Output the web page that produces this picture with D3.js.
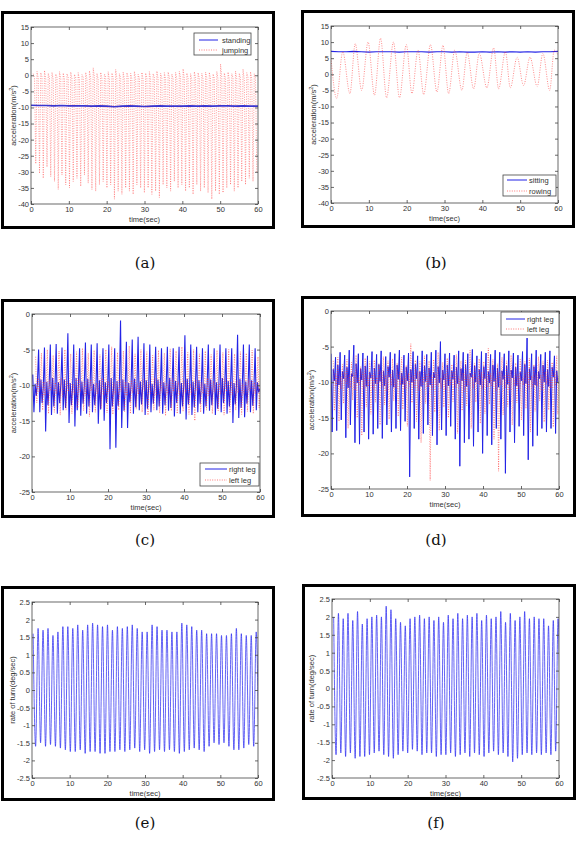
<!DOCTYPE html>
<html><head><meta charset="utf-8">
<script src="https://cdn.jsdelivr.net/npm/d3@7"></script>
<style>body{margin:0;background:#fff}svg{display:block}</style>
</head><body>
<svg id="fig" width="580" height="851"></svg>
<script>
// ---------------- DATA ----------------
const timeTicks = [0, 10, 20, 30, 40, 50, 60];
const accelTicksAB = [15, 10, 5, 0, -5, -10, -15, -20, -25, -30, -35, -40];
const accelTicksCD = [0, -5, -10, -15, -20, -25];
const turnTicks = [2.5, 2, 1.5, 1, 0.5, 0, -0.5, -1, -1.5, -2, -2.5];

// (a) standing: sampled every 2 s
const standing = [-9.3,-9.4,-9.4,-9.5,-9.4,-9.5,-9.5,-9.5,-9.6,-9.5,
  -9.6,-9.8,-9.6,-9.5,-9.6,-9.7,-9.6,-9.5,-9.6,-9.6,
  -9.6,-9.5,-9.6,-9.5,-9.6,-9.5,-9.5,-9.6,-9.5,-9.6,-9.6];
// (a) jumping: samples every 0.33 s from 0.6 s (airborne, airborne, landing)
const jumping = [
  0.5,-0.8,-27.5, 1.2,-1.0,-30.5, 0.8,-0.5,-32.0, 1.5,-1.2,-28.5, 0.6,-0.9,-31.5,
  0.9,-1.4,-33.0, 0.4,-0.6,-35.5, 1.1,-1.0,-31.0, 0.7,-1.3,-34.0, 0.5,-0.7,-35.0,
  1.0,-1.1,-33.0, 0.3,-0.8,-32.0, 0.8,-1.5,-34.5, 0.2,-0.6,-31.0, 0.9,-1.2,-33.5,
  1.4,-0.9,-35.5, 2.3,-0.7,-36.0, 0.6,-1.3,-34.0, 0.9,-1.0,-33.0, 0.4,-0.5,-35.0,
  1.1,-1.4,-34.0, 0.7,-0.8,-38.5, 1.8,-1.1,-36.0, 0.5,-0.9,-37.0, 1.0,-1.3,-35.0,
  0.8,-0.6,-36.0, 0.6,-1.2,-37.0, 1.2,-0.9,-34.0, 0.3,-1.0,-35.0, 0.9,-1.4,-36.5,
  0.7,-0.8,-35.0, 1.1,-1.2,-37.0, 0.5,-0.7,-36.0, 1.3,-1.1,-38.0, 0.6,-0.9,-34.0,
  0.8,-1.3,-35.0, 1.0,-0.6,-36.0, 0.4,-1.0,-33.0, 0.9,-1.2,-35.0, 1.2,-0.8,-34.0,
  2.0,-1.1,-36.0, 0.7,-0.9,-35.0, 0.5,-1.4,-37.0, 1.1,-0.7,-34.0, 0.8,-1.0,-36.0,
  0.6,-1.2,-35.0, 1.0,-0.8,-36.5, 0.9,-1.1,-38.5, 0.4,-0.9,-36.0, 1.2,-1.3,-37.0,
  3.5,-0.6,-36.5, 0.7,-1.0,-35.0, 1.0,-1.2,-34.0, 0.5,-0.8,-36.0, 1.3,-1.1,-35.0,
  0.6,-0.9,-33.0, 1.9,-1.3,-34.0, 0.8,-0.7,-32.0, 1.1,-1.0,-33.0, 0.5,-0.9,-30.0];

// (b) sitting: every 2 s
const sitting = [7.1,7.0,7.0,7.1,7.0,6.9,7.0,7.0,7.0,6.9,
  7.0,7.0,7.0,6.9,7.0,7.0,6.9,7.0,6.9,6.9,
  7.0,6.9,7.0,6.9,7.0,6.9,7.0,6.9,7.0,7.0,7.1];
// (b) rowing: turning points
const rowingTime = [0,1.5,3.1,5.0,6.4,8.1,9.8,11.5,13.1,14.7,16.5,18.1,19.9,21.4,23.0,24.5,26.3,28.0,
  29.6,31.1,32.7,34.6,36.0,37.7,39.2,41.2,43.0,44.3,46.1,47.4,49.2,50.9,52.6,54.5,56.0,57.8,59.0,60];
const rowingValue = [5.0,-7.5,7.0,-6.0,9.5,-5.0,10.0,-6.5,11.2,-7.3,10.0,-7.3,9.2,-6.0,7.5,-6.3,9.2,-5.5,
  9.0,-6.0,7.5,-5.0,6.8,-4.5,6.5,-4.2,8.2,-4.5,7.0,-4.2,5.3,-3.5,5.3,-3.8,6.5,-5.0,7.5,6.0];

// (c) walking, right leg: every 0.308 s from 0.2 s (peak, drop, mid, dip, mid per step)
const walkRight = [
  -8.5,-13.8,-9.8,-11.5,-9.6,  -5.0,-13.8,-9.2,-12.5,-10.2, -4.7,-16.5,-9.5,-12.8,-10.0,
  -4.3,-14.2,-9.0,-13.0,-10.3, -4.2,-14.0,-9.6,-12.5,-9.8,  -4.7,-13.5,-9.2,-13.2,-10.1,
  -2.7,-15.3,-9.7,-12.8,-10.4, -4.3,-15.8,-9.0,-13.5,-9.9,  -4.8,-14.3,-9.5,-12.6,-10.2,
  -4.0,-14.0,-9.1,-13.0,-10.0, -4.3,-13.8,-9.8,-12.8,-10.3, -4.1,-15.4,-9.3,-13.4,-9.8,
  -4.8,-15.0,-9.6,-12.5,-10.1, -4.3,-19.0,-9.0,-13.0,-10.4, -4.8,-18.8,-9.4,-12.9,-10.0,
  -0.9,-16.0,-9.2,-13.6,-10.3, -3.9,-16.0,-9.7,-12.4,-9.9,  -3.6,-14.0,-9.1,-13.1,-10.2,
  -3.2,-13.5,-9.5,-12.7,-10.0, -4.1,-14.2,-9.3,-13.3,-10.4, -4.3,-13.8,-9.8,-12.6,-9.9,
  -4.6,-13.5,-9.2,-13.0,-10.2, -4.8,-14.0,-9.6,-12.8,-10.0, -4.6,-13.6,-9.0,-13.2,-10.3,
  -4.8,-14.4,-9.4,-12.5,-9.8,  -4.6,-14.0,-9.7,-13.0,-10.1, -3.0,-14.8,-9.1,-12.7,-10.4,
  -4.3,-14.2,-9.5,-13.1,-10.0, -4.6,-13.8,-9.3,-12.6,-10.2, -4.8,-14.0,-9.8,-13.0,-9.9,
  -4.3,-13.6,-9.2,-12.8,-10.3, -4.8,-14.2,-9.6,-13.3,-10.0, -4.3,-13.8,-9.0,-12.5,-10.2,
  -4.8,-14.0,-9.4,-13.0,-9.8,  -4.8,-15.3,-9.7,-12.7,-10.1, -2.9,-14.6,-9.1,-13.2,-10.4,
  -4.3,-14.5,-9.5,-12.6,-10.0, -4.3,-13.8,-9.3,-12.9,-10.2, -4.8,-13.5,-9.6,-11.0,-10.5];
// (c) walking, left leg: every 0.308 s from 0.95 s
const walkLeft = [
  -6.0,-12.5,-9.0,-11.0,-10.0, -5.5,-13.5,-9.5,-11.5,-10.2, -5.0,-14.0,-9.2,-10.8,-9.8,
  -5.8,-13.8,-9.6,-11.2,-10.1, -5.2,-14.2,-9.0,-11.6,-10.3, -5.0,-13.5,-9.4,-10.9,-9.9,
  -5.6,-14.0,-9.8,-11.3,-10.2, -5.3,-13.2,-9.1,-11.0,-10.0, -4.8,-13.6,-9.5,-11.5,-10.4,
  -5.5,-14.4,-9.2,-10.8,-9.8,  -5.1,-13.8,-9.7,-11.2,-10.1, -5.7,-13.3,-9.0,-11.4,-10.3,
  -5.0,-13.9,-9.4,-11.0,-9.9,  -4.6,-14.1,-9.6,-11.3,-10.2, -5.4,-13.5,-9.1,-10.9,-10.0,
  -5.2,-13.7,-9.5,-11.5,-10.4, -4.5,-14.0,-9.3,-11.1,-9.8,  -5.6,-13.4,-9.8,-11.3,-10.1,
  -5.0,-13.8,-9.2,-10.8,-10.3, -5.3,-14.2,-9.6,-11.2,-9.9,  -5.8,-13.5,-9.0,-11.5,-10.2,
  -5.1,-13.9,-9.4,-11.0,-10.0, -5.5,-14.3,-9.7,-11.3,-10.4, -4.9,-13.6,-9.1,-10.9,-9.8,
  -5.2,-14.0,-9.5,-11.4,-10.1, -4.6,-13.7,-9.3,-11.1,-10.3, -5.4,-14.1,-9.8,-11.3,-9.9,
  -5.0,-15.0,-9.2,-10.8,-10.2, -5.6,-13.8,-9.6,-11.2,-10.0, -5.2,-13.5,-9.0,-11.5,-10.4,
  -5.7,-14.0,-9.4,-11.0,-9.8,  -5.1,-13.6,-9.7,-11.3,-10.1, -5.4,-14.2,-9.1,-10.9,-10.3,
  -5.0,-13.9,-9.5,-11.4,-9.9,  -5.6,-13.5,-9.3,-11.1,-10.2, -5.3,-14.1,-9.8,-11.3,-10.0,
  -5.5,-13.7,-9.2,-10.8,-10.4, -5.1,-14.0,-9.6,-11.2,-9.8,  -6.0,-13.2,-9.4,-11.0,-10.2];

// (d) running, right leg: every 0.3 s from 0 s (peak, drop, mid, mid per step)
const runRight = [
  -6.0,-17.0,-8.2,-9.8,  -6.5,-16.8,-7.6,-10.4, -5.8,-15.3,-8.5,-9.5,  -6.2,-17.8,-7.9,-10.8,
  -5.5,-16.0,-8.8,-9.2,  -4.8,-18.5,-7.4,-10.1, -6.0,-18.7,-8.1,-9.7,  -5.9,-17.0,-7.7,-10.6,
  -6.3,-18.0,-8.6,-9.4,  -5.7,-17.3,-8.0,-10.2, -6.1,-16.5,-7.5,-9.9,  -5.6,-17.9,-8.4,-10.5,
  -6.4,-16.0,-7.8,-9.3,  -5.8,-17.0,-8.3,-10.7, -6.0,-16.5,-7.6,-9.6,  -5.5,-16.8,-8.7,-10.3,
  -6.2,-15.5,-7.9,-9.8,  -5.9,-23.3,-8.2,-10.0, -5.7,-16.5,-7.5,-9.5,  -6.3,-18.0,-8.5,-10.6,
  -5.6,-17.2,-7.7,-9.9,  -6.1,-16.0,-8.0,-10.4, -5.8,-17.5,-8.6,-9.4,  -5.5,-18.8,-7.8,-10.1,
  -4.3,-16.7,-8.3,-9.7,  -6.0,-17.5,-7.6,-10.5, -5.9,-16.2,-8.4,-9.6,  -6.2,-18.0,-7.9,-10.2,
  -5.6,-21.8,-8.1,-9.8,  -5.8,-18.5,-7.5,-10.6, -6.0,-18.0,-8.7,-9.3,  -5.4,-19.0,-7.7,-10.0,
  -6.3,-17.0,-8.2,-10.4, -5.7,-20.0,-7.8,-9.5,  -5.9,-17.5,-8.5,-10.1, -6.1,-18.8,-7.6,-9.9,
  -5.5,-16.5,-8.0,-10.7, -5.8,-18.0,-8.4,-9.6,  -6.0,-22.8,-7.7,-10.3, -5.6,-17.0,-8.3,-9.4,
  -5.9,-18.5,-7.9,-10.5, -6.2,-16.2,-8.6,-9.8,  -5.7,-17.5,-7.5,-10.2, -3.8,-20.9,-8.1,-9.7,
  -6.0,-19.0,-7.8,-10.4, -5.5,-17.5,-8.5,-9.5,  -6.1,-16.5,-7.6,-10.0, -5.8,-17.0,-8.2,-10.6,
  -5.6,-16.5,-7.9,-9.3,  -6.3,-17.2,-8.4,-10.1];
// (d) running, left leg: every 0.3 s from 0.6 s
const runLeft = [
  -7.0,-14.0,-8.8,-10.5, -6.5,-15.5,-9.2,-11.0, -7.5,-13.0,-8.5,-10.2, -6.8,-16.5,-9.0,-10.8,
  -7.2,-12.5,-8.7,-11.2, -6.2,-15.0,-9.4,-10.4, -7.8,-17.5,-8.6,-10.9, -6.6,-13.5,-9.1,-10.6,
  -7.1,-14.5,-8.9,-11.1, -6.9,-12.8,-9.3,-10.3, -7.4,-16.0,-8.4,-10.7, -6.4,-13.2,-9.0,-11.3,
  -7.0,-15.2,-8.8,-10.5, -6.7,-12.6,-9.5,-10.9, -7.3,-14.8,-8.6,-10.4, -6.5,-13.8,-9.2,-11.0,
  -7.6,-16.2,-8.7,-10.6, -4.6,-12.9,-9.1,-10.8, -6.9,-15.5,-8.5,-11.2, -7.1,-18.5,-9.3,-10.3,
  -6.3,-13.0,-8.9,-10.7, -7.0,-23.8,-9.0,-11.0, -6.8,-14.2,-8.6,-10.5, -5.8,-16.8,-9.4,-10.9,
  -7.2,-13.5,-8.8,-11.1, -6.6,-15.0,-9.1,-10.4, -7.5,-12.7,-8.5,-10.8, -6.1,-17.2,-9.2,-10.6,
  -7.0,-14.0,-8.7,-11.3, -6.9,-13.3,-9.0,-10.5, -5.5,-16.5,-8.9,-10.9, -7.3,-12.8,-9.3,-10.3,
  -6.7,-15.8,-8.6,-11.0, -7.1,-14.4,-9.1,-10.7, -5.2,-13.1,-8.8,-10.6, -6.8,-18.0,-9.4,-11.2,
  -7.4,-22.5,-8.5,-10.4, -6.5,-14.6,-9.0,-10.8, -7.0,-13.4,-8.7,-11.1, -6.2,-16.0,-9.2,-10.5,
  -7.3,-12.9,-8.9,-10.9, -6.8,-15.3,-9.3,-10.4, -7.1,-13.7,-8.6,-11.0, -6.6,-17.0,-9.1,-10.7,
  -7.5,-14.1,-8.8,-10.6, -6.4,-12.6,-9.0,-11.2, -7.0,-15.6,-8.5,-10.3, -6.9,-13.9,-9.4,-10.9,
  -7.2,-16.3,-8.7,-10.5, -6.3,-14.5,-9.2,-10.8];

// (e) rate of turn: alternating peak / trough, every 0.658 s from 0.3 s
const turnE = [
  1.6,-1.6, 1.75,-1.5, 1.7,-1.6, 1.75,-1.55, 1.55,-1.6, 1.65,-1.65, 1.8,-1.7, 1.8,-1.75,
  1.75,-1.75, 1.85,-1.7, 1.7,-1.8, 1.85,-1.75, 1.9,-1.75, 1.85,-1.8, 1.8,-1.8, 1.85,-1.75,
  1.7,-1.75, 1.8,-1.7, 1.75,-1.75, 1.8,-1.7, 1.85,-1.65, 1.75,-1.75, 1.65,-1.7, 1.65,-1.8,
  1.85,-1.75, 1.8,-1.7, 1.7,-1.75, 1.7,-1.7, 1.65,-1.75, 1.65,-1.8, 1.9,-1.75, 1.85,-1.7,
  1.8,-1.65, 1.7,-1.7, 1.7,-1.75, 1.6,-1.6, 1.6,-1.5, 1.6,-1.55, 1.55,-1.5, 1.55,-1.6,
  1.6,-1.7, 1.75,-1.7, 1.6,-1.65, 1.55,-1.55, 1.55,-1.6, 1.65,-1.7];
// (f) rate of turn: alternating peak / trough, every 0.631 s from 0.44 s
const turnF = [
  2.0,-1.85, 2.1,-1.8, 1.95,-1.9, 2.1,-1.8, 1.9,-1.95, 2.15,-1.9, 1.8,-1.9, 1.95,-1.85,
  2.0,-1.8, 2.05,-1.75, 2.0,-1.85, 2.3,-1.9, 2.2,-1.95, 1.95,-1.85, 1.85,-1.75, 1.75,-1.8,
  1.95,-1.7, 2.0,-1.75, 2.05,-1.85, 1.95,-1.8, 2.0,-1.8, 1.9,-1.9, 2.0,-1.85, 1.85,-1.85,
  2.05,-1.8, 1.95,-1.9, 2.1,-1.85, 1.95,-1.8, 2.05,-1.9, 2.0,-1.8, 2.1,-1.85, 1.9,-1.9,
  2.05,-1.8, 1.95,-1.75, 2.0,-1.85, 2.15,-1.8, 1.85,-1.9, 2.1,-2.05, 1.9,-1.95, 2.0,-1.85,
  2.15,-1.8, 1.95,-1.85, 2.0,-1.8, 1.95,-1.85, 1.95,-1.8, 1.75,-1.85, 1.9,-1.75, 1.95,-1.6];

// ---------------- DRAWING ----------------
const FONT = "'Liberation Sans', Arial, sans-serif";
const BLUE = "#2323e6", RED = "#ff2a2a";
const svg = d3.select('#fig');
const seq = (vals, t0, dt) => vals.map((v, i) => [t0 + i * dt, v]);

function panel(cfg) {
  const [fx0, fy0, fx1, fy1] = cfg.frame;
  const [px0, py0, px1, py1] = cfg.plot;
  const g = svg.append('g');
  g.append('rect').attr('x', fx0 + 1.5).attr('y', fy0 + 1.5)
    .attr('width', fx1 - fx0 - 3).attr('height', fy1 - fy0 - 3)
    .attr('fill', '#fff').attr('stroke', '#000').attr('stroke-width', 3);
  const x = d3.scaleLinear().domain([0, 60]).range([px0, px1]);
  const y = d3.scaleLinear().domain(cfg.yDomain).range([py1, py0]);
  const clipId = 'clip-' + cfg.id;
  g.append('clipPath').attr('id', clipId).append('rect')
    .attr('x', px0).attr('y', py0).attr('width', px1 - px0).attr('height', py1 - py0);
  const plot = g.append('g').attr('clip-path', `url(#${clipId})`);
  cfg.series.forEach(s => {
    plot.append('path').datum(s.points)
      .attr('fill', 'none').attr('stroke', s.color).attr('stroke-width', s.width)
      .attr('stroke-dasharray', s.dash || null)
      .attr('stroke-opacity', s.opacity || 1)
      .attr('d', d3.line().x(d => x(d[0])).y(d => y(d[1])).curve(s.curve || d3.curveLinear));
  });
  g.append('rect').attr('x', px0).attr('y', py0).attr('width', px1 - px0).attr('height', py1 - py0)
    .attr('fill', 'none').attr('stroke', '#444').attr('stroke-width', 0.8);
  const fmt = d => String(d);
  const style = sel => {
    sel.select('.domain').remove();
    sel.selectAll('line').attr('stroke', '#444').attr('stroke-width', 0.8);
    sel.selectAll('text').attr('font-family', FONT).attr('font-size', 7.5).attr('fill', '#333');
  };
  g.append('g').attr('transform', `translate(0,${py1})`)
    .call(d3.axisBottom(x).tickValues(timeTicks).tickFormat(fmt).tickSizeInner(-3).tickSizeOuter(0).tickPadding(3)).call(style);
  g.append('g').attr('transform', `translate(0,${py0})`)
    .call(d3.axisTop(x).tickValues(timeTicks).tickFormat('').tickSizeInner(-3).tickSizeOuter(0)).call(style);
  g.append('g').attr('transform', `translate(${px0},0)`)
    .call(d3.axisLeft(y).tickValues(cfg.yTicks).tickFormat(fmt).tickSizeInner(-3).tickSizeOuter(0).tickPadding(2)).call(style);
  g.append('g').attr('transform', `translate(${px1},0)`)
    .call(d3.axisRight(y).tickValues(cfg.yTicks).tickFormat('').tickSizeInner(-3).tickSizeOuter(0)).call(style);

  g.append('text').attr('x', (px0 + px1) / 2).attr('y', py1 + 18)
    .attr('text-anchor', 'middle').attr('font-family', FONT).attr('font-size', 7.5).attr('fill', '#333')
    .text('time(sec)');
  const yl = g.append('text')
    .attr('transform', `translate(${px0 - cfg.ylabelGap},${(py0 + py1) / 2}) rotate(-90)`)
    .attr('dy', '0.35em').attr('text-anchor', 'middle')
    .attr('font-family', FONT).attr('font-size', 7.5).attr('fill', '#333');
  if (cfg.ylabel === 'acc') {
    yl.append('tspan').text('acceleration(m/s');
    yl.append('tspan').attr('baseline-shift', 'super').attr('font-size', 5.5).text('2');
    yl.append('tspan').text(')');
  } else {
    yl.text('rate of turn(deg/sec)');
  }

  if (cfg.legend) {
    const L = cfg.legend;
    g.append('rect').attr('x', L.box[0]).attr('y', L.box[1])
      .attr('width', L.box[2] - L.box[0]).attr('height', L.box[3] - L.box[1])
      .attr('fill', '#fff').attr('stroke', '#444').attr('stroke-width', 0.8);
    L.items.forEach((it, i) => {
      const yy = L.rows[i];
      g.append('line').attr('x1', L.line[0]).attr('x2', L.line[1]).attr('y1', yy).attr('y2', yy)
        .attr('stroke', it.color).attr('stroke-width', it.width).attr('stroke-dasharray', it.dash || null)
        .attr('stroke-opacity', it.opacity || 1);
      g.append('text').attr('x', L.text).attr('y', yy).attr('dy', '0.35em')
        .attr('font-family', FONT).attr('font-size', 7.5).attr('fill', '#333').text(it.label);
    });
  }

  svg.append('text').attr('x', cfg.caption[0]).attr('y', cfg.caption[1])
    .attr('text-anchor', 'middle').attr('font-family', "'DejaVu Serif', serif")
    .attr('font-size', 15).attr('fill', '#111').text('(' + cfg.id + ')');
}

const redDot = { color: RED, width: 0.9, dash: '1,1.4', opacity: 0.6 };
const redKey = { color: RED, width: 0.9, dash: '1,1.4', opacity: 0.7 };
const blueKey = { color: BLUE, width: 1 };

panel({
  id: 'a', frame: [1, 11, 275, 229], plot: [31, 27, 258, 204],
  yDomain: [-40, 15], yTicks: accelTicksAB, ylabel: 'acc', ylabelGap: 18, caption: [145, 268],
  series: [
    Object.assign({ points: seq(jumping, 0.6, 0.33) }, redDot, { opacity: 0.5 }),
    { points: seq(standing, 0, 2), color: '#3a36d0', width: 1.6 }
  ],
  legend: { box: [194, 33, 251, 55], line: [199, 218], text: 222, rows: [40, 50],
    items: [Object.assign({ label: 'standing' }, blueKey), Object.assign({ label: 'jumping' }, redKey)] }
});

panel({
  id: 'b', frame: [301, 10, 575, 228], plot: [331, 26, 558, 203],
  yDomain: [-40, 15], yTicks: accelTicksAB, ylabel: 'acc', ylabelGap: 18, caption: [436, 268],
  series: [
    { points: seq(sitting, 0, 2), color: BLUE, width: 1.2 },
    Object.assign({ points: rowingTime.map((t, i) => [t, rowingValue[i]]), curve: d3.curveMonotoneX }, redDot)
  ],
  legend: { box: [503, 175, 556, 196], line: [507, 527], text: 529, rows: [180, 191],
    items: [Object.assign({ label: 'sitting' }, blueKey), Object.assign({ label: 'rowing' }, redKey)] }
});

panel({
  id: 'c', frame: [1, 299, 275, 518], plot: [32, 314, 260, 492],
  yDomain: [-25, 0], yTicks: accelTicksCD, ylabel: 'acc', ylabelGap: 19, caption: [145, 545],
  series: [
    { points: seq(walkRight, 0.2, 0.308), color: BLUE, width: 1.1 },
    Object.assign({ points: seq(walkLeft, 0.95, 0.308) }, redDot)
  ],
  legend: { box: [200, 463, 259, 486], line: [205, 227], text: 229, rows: [469, 480],
    items: [Object.assign({ label: 'right leg' }, blueKey), Object.assign({ label: 'left leg' }, redKey)] }
});

panel({
  id: 'd', frame: [301, 296, 576, 517], plot: [331, 311, 559, 489],
  yDomain: [-25, 0], yTicks: accelTicksCD, ylabel: 'acc', ylabelGap: 20, caption: [436, 545],
  series: [
    { points: seq(runRight, 0, 0.3), color: BLUE, width: 1.0 },
    Object.assign({ points: seq(runLeft, 0.6, 0.3) }, redDot)
  ],
  legend: { box: [501, 312, 559, 335], line: [506, 525], text: 527, rows: [319, 329],
    items: [Object.assign({ label: 'right leg' }, blueKey), Object.assign({ label: 'left leg' }, redKey)] }
});

panel({
  id: 'e', frame: [1, 586, 275, 801], plot: [32, 602, 258, 778],
  yDomain: [-2.5, 2.5], yTicks: turnTicks, ylabel: 'turn', ylabelGap: 20, caption: [145, 828],
  series: [{ points: seq(turnE, 0.3, 0.658), color: '#2f2ff0', width: 0.75, curve: d3.curveMonotoneX }]
});

panel({
  id: 'f', frame: [302, 584, 576, 800], plot: [332, 599, 559, 778],
  yDomain: [-2.5, 2.5], yTicks: turnTicks, ylabel: 'turn', ylabelGap: 21, caption: [436, 828],
  series: [{ points: seq(turnF, 0.44, 0.631), color: '#2f2ff0', width: 0.75, curve: d3.curveMonotoneX }]
});
</script>
</body></html>
